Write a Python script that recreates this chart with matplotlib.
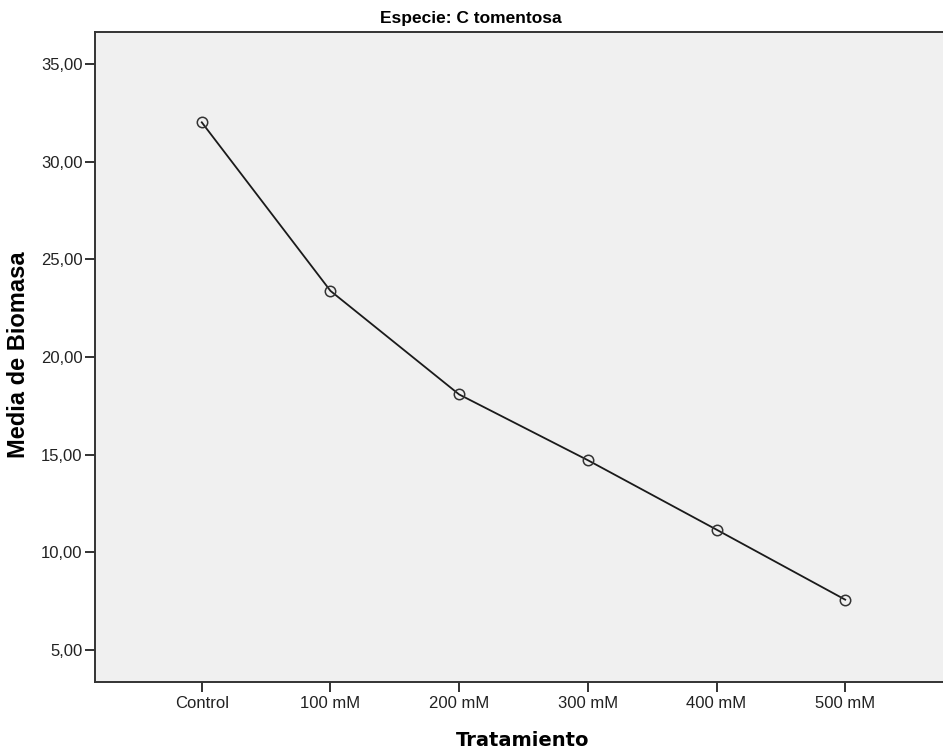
import matplotlib.pyplot as plt
from matplotlib.ticker import FuncFormatter

# Mean biomass per salt treatment, C. tomentosa
tratamientos = ["Control", "100 mM", "200 mM", "300 mM", "400 mM", "500 mM"]
biomasa_media = [32.03, 23.39, 18.08, 14.71, 11.15, 7.56]
y_ticks = [5, 10, 15, 20, 25, 30, 35]

plt.rcParams["font.family"] = ["Liberation Sans", "DejaVu Sans"]

fig = plt.figure(figsize=(9.43, 7.53), dpi=100)
ax = fig.add_axes([0.1007, 0.0943, 0.8993, 0.8632])
ax.set_facecolor("#f0f0f0")

x = list(range(len(tratamientos)))
ax.plot(x, biomasa_media, color="#1a1a1a", linewidth=1.3, zorder=2)
ax.plot(x, biomasa_media, linestyle="none", marker="o", markersize=7.5,
        markerfacecolor="none", markeredgecolor="#333333", markeredgewidth=1.1,
        zorder=3)

ax.set_xlim(-0.83, 5.76)
ax.set_ylim(3.34, 36.66)
ax.set_xticks(x)
ax.set_xticklabels(tratamientos)
ax.set_yticks(y_ticks)
ax.yaxis.set_major_formatter(FuncFormatter(lambda v, _: f"{v:.2f}".replace(".", ",")))

ax.tick_params(axis="both", direction="out", length=7, width=1.3,
               color="#222222", labelsize=12, labelcolor="#222222", pad=2)
ax.tick_params(axis="x", pad=3)

for side in ["left", "bottom", "top"]:
    ax.spines[side].set_linewidth(1.4)
    ax.spines[side].set_color("#333333")
ax.spines["right"].set_visible(False)

fig.text(0.020, 0.5286, "Media de Biomasa", fontsize=17, fontweight="bold",
         rotation=90, ha="center", va="center")
fig.text(0.5546, 0.016, "Tratamiento", fontsize=14, fontweight="bold",
         family=["DejaVu Sans"], ha="center", va="center")
fig.text(0.4995, 0.975, "Especie: C tomentosa", fontsize=12.5, fontweight="bold",
         ha="center", va="center")

fig.savefig("out.png", dpi=100)
